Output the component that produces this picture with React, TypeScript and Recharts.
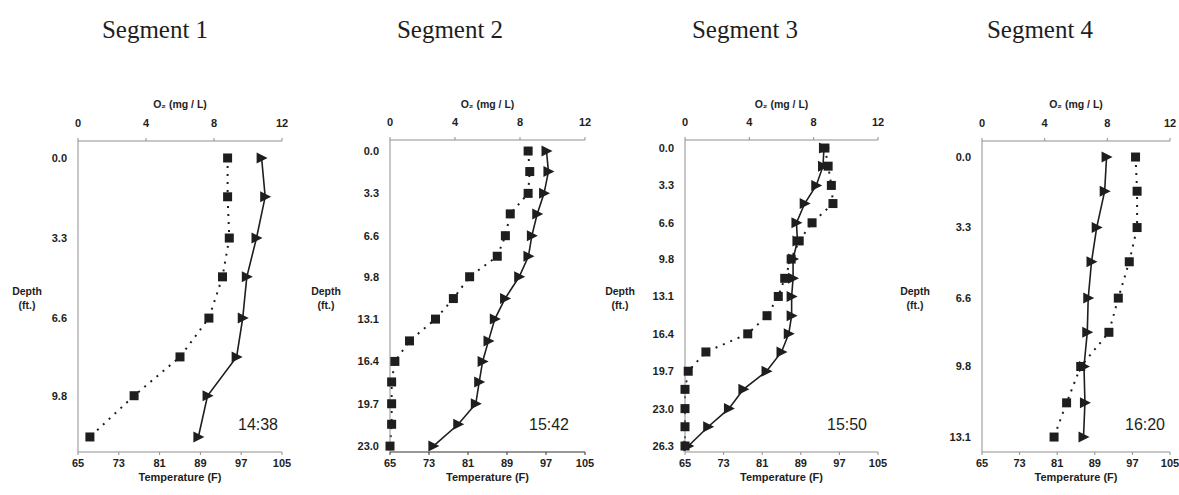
import React from 'react'
import { LineChart, Line, XAxis, YAxis } from 'recharts'

// depth of each reading (ft.), O2 (mg/L) and temperature (F), per segment
const depthSeg1 = [0, 1.6, 3.3, 4.9, 6.6, 8.2, 9.8, 11.5]
const o2Seg1 = [8.8, 8.8, 8.9, 8.5, 7.7, 6.0, 3.3, 0.7]
const tempSeg1 = [101.0, 101.7, 100.0, 98.1, 97.3, 96.1, 90.4, 88.6]

const depthSeg2 = [0, 1.6, 3.3, 4.9, 6.6, 8.2, 9.8, 11.5, 13.1, 14.8, 16.4, 18.0, 19.7, 21.3, 23.0]
const o2Seg2 = [8.5, 8.6, 8.5, 7.4, 7.1, 6.6, 4.9, 3.9, 2.8, 1.2, 0.3, 0.1, 0.1, 0.1, 0.0]
const tempSeg2 = [97.1, 97.5, 96.6, 95.2, 94.1, 93.4, 91.5, 88.6, 86.5, 85.2, 84.0, 83.3, 82.6, 79.0, 73.9]

const depthSeg3 = [0, 1.6, 3.3, 4.9, 6.6, 8.2, 9.8, 11.5, 13.1, 14.8, 16.4, 18.0, 19.7, 21.3, 23.0, 24.6, 26.3]
const o2Seg3 = [8.7, 8.9, 9.1, 9.2, 7.9, 7.1, 6.6, 6.2, 5.8, 5.1, 3.9, 1.3, 0.2, 0.0, 0.0, 0.0, 0.0]
const tempSeg3 = [93.8, 93.6, 92.2, 89.8, 88.1, 88.3, 87.4, 87.4, 87.1, 87.1, 86.5, 85.0, 81.9, 77.1, 74.1, 69.8, 65.7]

const depthSeg4 = [0, 1.6, 3.3, 4.9, 6.6, 8.2, 9.8, 11.5, 13.1]
const o2Seg4 = [9.8, 9.9, 9.9, 9.4, 8.7, 8.1, 6.3, 5.4, 4.6]
const tempSeg4 = [91.5, 91.1, 89.4, 88.3, 87.6, 87.4, 86.7, 86.9, 86.6]

const o2Ticks = [0, 4, 8, 12]
const tempTicks = [65, 73, 81, 89, 97, 105]
const depthTicks1 = [0, 3.3, 6.6, 9.8]
const depthTicks2 = [0, 3.3, 6.6, 9.8, 13.1, 16.4, 19.7, 23.0]
const depthTicks3 = [0, 3.3, 6.6, 9.8, 13.1, 16.4, 19.7, 23.0, 26.3]
const depthTicks4 = [0, 3.3, 6.6, 9.8, 13.1]

const titles = ['Segment 1', 'Segment 2', 'Segment 3', 'Segment 4']
const times = ['14:38', '15:42', '15:50', '16:20']

const W = 1179
const H = 495
const AXIS_GRAY = '#8f8f8f'
const INK = '#1e1e1e'
const SANS = '"Liberation Sans", Arial, sans-serif'

const panels = [
  { depth: depthSeg1, o2: o2Seg1, temp: tempSeg1, ticks: depthTicks1, plot: { l: 78, t: 141, r: 282, b: 452 }, yDomain: [-0.7, 12.12], titleX: 155, depthX: 27, timeX: 258, bottomAxis: AXIS_GRAY },
  { depth: depthSeg2, o2: o2Seg2, temp: tempSeg2, ticks: depthTicks2, plot: { l: 390, t: 140, r: 585, b: 452 }, yDomain: [-0.86, 23.46], titleX: 450, depthX: 326, timeX: 549, bottomAxis: '#333' },
  { depth: depthSeg3, o2: o2Seg3, temp: tempSeg3, ticks: depthTicks3, plot: { l: 685, t: 140, r: 878, b: 452 }, yDomain: [-0.71, 26.83], titleX: 745, depthX: 620, timeX: 847, bottomAxis: AXIS_GRAY },
  { depth: depthSeg4, o2: o2Seg4, temp: tempSeg4, ticks: depthTicks4, plot: { l: 982, t: 141, r: 1170, b: 452 }, yDomain: [-0.75, 13.8], titleX: 1040, depthX: 915, timeX: 1145, bottomAxis: AXIS_GRAY },
]

const tickStyle = { fontSize: 11, fontFamily: SANS, fontWeight: 'bold', fill: INK }

const Square = (p: any) => {
  if (p.cx == null || p.cy == null) return <g key={`sq-${p.index}`} />
  return <rect key={`sq-${p.index}`} x={p.cx - 4.5} y={p.cy - 4.5} width={9} height={9} fill={INK} />
}

const Triangle = (p: any) => {
  if (p.cx == null || p.cy == null) return <g key={`tr-${p.index}`} />
  const { cx, cy } = p
  return <path key={`tr-${p.index}`} d={`M${cx - 5},${cy - 5.5} L${cx + 6},${cy} L${cx - 5},${cy + 5.5} Z`} fill={INK} />
}

const text = (x: number, y: number, style: React.CSSProperties) => ({
  position: 'absolute' as const,
  left: x,
  top: y,
  transform: 'translate(-50%, -50%)',
  whiteSpace: 'nowrap' as const,
  lineHeight: 1,
  color: INK,
  ...style,
})

function Panel({ p, i }: { p: (typeof panels)[number]; i: number }) {
  const data = p.depth.map((d, k) => ({ depth: d, o2: p.o2[k], temp: p.temp[k] }))
  const { l, t, r, b } = p.plot
  return (
    <>
      <div style={{ position: 'absolute', left: 0, top: 0 }}>
        <LineChart
          width={W}
          height={H}
          data={data}
          layout="vertical"
          margin={{ top: t - 30, bottom: H - b - 30, left: l - 40, right: W - r }}
        >
          <XAxis
            xAxisId="o2"
            orientation="top"
            type="number"
            domain={[0, 12]}
            ticks={o2Ticks}
            height={30}
            axisLine={{ stroke: AXIS_GRAY }}
            tickLine={{ stroke: AXIS_GRAY }}
            tickSize={3}
            tickMargin={11}
            tick={tickStyle}
          />
          <XAxis
            xAxisId="temp"
            orientation="bottom"
            type="number"
            domain={[65, 105]}
            ticks={tempTicks}
            height={30}
            axisLine={{ stroke: p.bottomAxis }}
            tickLine={{ stroke: p.bottomAxis }}
            tickSize={3}
            tickMargin={4}
            tick={tickStyle}
          />
          <YAxis
            type="number"
            dataKey="depth"
            domain={p.yDomain}
            ticks={p.ticks}
            allowDataOverflow
            width={40}
            axisLine={{ stroke: AXIS_GRAY }}
            tickLine={false}
            tickSize={0}
            tickMargin={11}
            tick={tickStyle}
            tickFormatter={(v: number) => v.toFixed(1)}
          />
          <Line
            xAxisId="o2"
            dataKey="o2"
            type="linear"
            stroke={INK}
            strokeWidth={2}
            strokeDasharray="2 6"
            dot={Square}
            activeDot={false}
            isAnimationActive={false}
          />
          <Line
            xAxisId="temp"
            dataKey="temp"
            type="linear"
            stroke={INK}
            strokeWidth={1.6}
            dot={Triangle}
            activeDot={false}
            isAnimationActive={false}
          />
        </LineChart>
      </div>
      <div style={text(p.titleX, 29, { fontFamily: '"Liberation Serif", "Times New Roman", serif', fontSize: 25 })}>{titles[i]}</div>
      <div style={text((l + r) / 2, 104, { fontFamily: SANS, fontSize: 10.5, fontWeight: 'bold' })}>O₂ (mg / L)</div>
      <div style={text((l + r) / 2, 477, { fontFamily: SANS, fontSize: 11, fontWeight: 'bold' })}>Temperature (F)</div>
      <div style={text(p.depthX, 298, { fontFamily: SANS, fontSize: 10.5, fontWeight: 'bold', textAlign: 'center', lineHeight: '14px' })}>
        Depth
        <br />
        (ft.)
      </div>
      <div style={text(p.timeX, 425, { fontFamily: SANS, fontSize: 16 })}>{times[i]}</div>
    </>
  )
}

export default function App() {
  return (
    <div style={{ position: 'absolute', left: 0, top: 0, width: W, height: H, background: '#fff', overflow: 'hidden' }}>
      {panels.map((p, i) => (
        <Panel key={i} p={p} i={i} />
      ))}
    </div>
  )
}
